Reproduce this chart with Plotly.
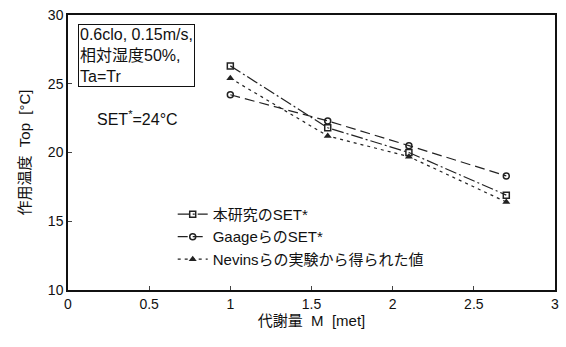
import plotly.graph_objects as go

x_met = [1.0, 1.6, 2.1, 2.7]
set_this = [26.3, 21.8, 20.0, 16.9]
set_gaage = [24.2, 22.3, 20.5, 18.3]
nevins = [25.4, 21.2, 19.7, 16.4]

names = ["本研究のSET*", "GaageらのSET*", "Nevinsらの実験から得られた値"]
x_ticks = [0, 0.5, 1, 1.5, 2, 2.5, 3]
x_tick_labels = ["0", "0.5", "1", "1.5", "2", "2.5", "3"]
y_ticks = [10, 15, 20, 25, 30]

JP = "Liberation Sans, Noto Sans CJK JP"
NUM = "Liberation Sans, Arial"

fig = go.Figure()
fig.add_trace(go.Scatter(x=x_met, y=set_this, name=names[0], mode="lines+markers",
                         line=dict(color="#222", width=1.2, dash="12px,3px,2px,3px"),
                         marker=dict(symbol="square-open", size=6, color="#222", line=dict(width=1.5))))
fig.add_trace(go.Scatter(x=x_met, y=set_gaage, name=names[1], mode="lines+markers",
                         line=dict(color="#222", width=1.2, dash="10px,5px"),
                         marker=dict(symbol="circle-open", size=6, color="#222", line=dict(width=1.5))))
fig.add_trace(go.Scatter(x=x_met, y=nevins, name=names[2], mode="lines+markers",
                         line=dict(color="#222", width=1.2, dash="3px,4px"),
                         marker=dict(symbol="triangle-up", size=7, color="#222")))

fig.add_annotation(xref="paper", yref="paper", x=0.02, y=0.968, xanchor="left", yanchor="top",
                   text="0.6clo, 0.15m/s,<br>相対湿度50%,<br>Ta=Tr", showarrow=False, align="left",
                   font=dict(family=JP, size=16, color="#111"),
                   bordercolor="#111", borderwidth=1, borderpad=1, bgcolor="white")
fig.add_annotation(xref="paper", yref="paper", x=0.055, y=0.625, xanchor="left", yanchor="middle",
                   text="SET<sup>*</sup>=24°C", showarrow=False,
                   font=dict(family=NUM, size=16, color="#111"))

fig.update_layout(
    width=566, height=347,
    margin=dict(l=68, r=7, t=15, b=57),
    paper_bgcolor="white", plot_bgcolor="white",
    font=dict(family=NUM, size=14, color="#111"),
    showlegend=True,
    legend=dict(x=0.215, y=0.335, xanchor="left", yanchor="top", bgcolor="rgba(0,0,0,0)",
                font=dict(family=JP, size=15, color="#111"), itemwidth=30, tracegroupgap=0),
    xaxis=dict(range=[0, 3], tickvals=x_ticks, ticktext=x_tick_labels, ticks="inside", ticklen=4,
               showgrid=False, zeroline=False, showline=True, linecolor="#111", linewidth=1.5,
               mirror=True, tickfont=dict(family=NUM, size=14),
               title=dict(text="代謝量  M  [met]", font=dict(family=JP, size=15), standoff=4)),
    yaxis=dict(range=[10, 30], tickvals=y_ticks, ticks="inside", ticklen=4,
               showgrid=False, zeroline=False, showline=True, linecolor="#111", linewidth=1.5,
               mirror=True, tickfont=dict(family=NUM, size=14),
               title=dict(text="作用温度  Top  [°C]", font=dict(family=JP, size=15), standoff=14)),
)

fig.write_html("out.html")
